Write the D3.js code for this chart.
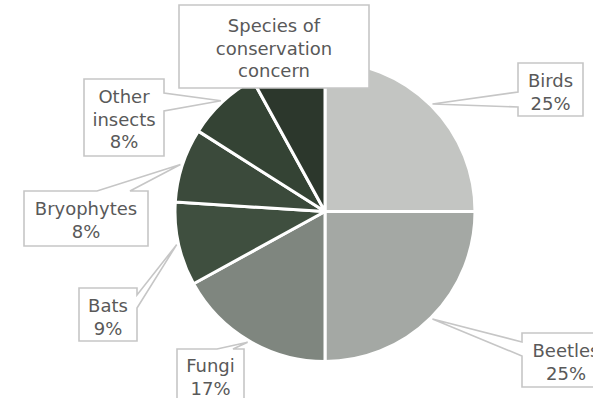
<!DOCTYPE html>
<html>
<head>
<meta charset="utf-8">
<script src="https://cdn.jsdelivr.net/npm/d3@7"></script>
<style>
  html, body { margin: 0; padding: 0; background: #fff; }
  svg { display: block; }
</style>
</head>
<body>
<svg id="chart" width="593" height="398"></svg>
<script>
// Share of indicator species groups (percent)
const categories = ["Birds", "Beetles", "Fungi", "Bats", "Bryophytes", "Other insects", "Species of conservation concern"];
const values = [25, 25, 17, 9, 8, 8, 8];
// Label lines per slice; the percentage line is appended where shown
const labelLines = [["Birds"], ["Beetles"], ["Fungi"], ["Bats"], ["Bryophytes"], ["Other", "insects"], ["Species of", "conservation", "concern"]];
const showPercent = [true, true, true, true, true, true, false];
const colors = ["#c3c5c2", "#a4a8a4", "#7f867f", "#3f4f3f", "#3b4a3b", "#344334", "#2c372c"];

// Callout box layout: box rect, which edge the pointer leaves from, and pointer base span
const callouts = [
  { x: 518, y: 63,  w: 65,  h: 53, first: 24, side: "left",   a: 92,  b: 107 },
  { x: 522, y: 333, w: 88,  h: 54, first: 24, side: "left",   a: 342, b: 356 },
  { x: 177, y: 349, w: 67,  h: 54, first: 23, side: "top",    a: 217, b: 233 },
  { x: 79,  y: 288, w: 58,  h: 53, first: 24, side: "right",  a: 295, b: 308 },
  { x: 24,  y: 191, w: 124, h: 55, first: 24, side: "top",    a: 97,  b: 130 },
  { x: 84,  y: 79,  w: 80,  h: 77, first: 24, side: "right",  a: 93,  b: 111 },
  { x: 179, y: 5,   w: 190, h: 83, first: 27, side: "bottom", a: 280, b: 294 }
];

const cx = 325, cy = 211.5, radius = 150;
const svg = d3.select("#chart");
const g = svg.append("g").attr("transform", `translate(${cx},${cy})`);

const data = categories.map((c, i) => ({ name: c, value: values[i], i }));
const pie = d3.pie().value(d => d.value).sort(null);
const arcs = pie(data);
const arc = d3.arc().innerRadius(0).outerRadius(radius);

g.selectAll("path.slice")
  .data(arcs)
  .join("path")
  .attr("class", "slice")
  .attr("d", arc)
  .attr("fill", d => colors[d.data.i])
  .attr("stroke", "#fff")
  .attr("stroke-width", 3)
  .attr("stroke-linejoin", "round");

// Pointer tip sits on the rim at the slice's middle angle
const tipArc = d3.arc().innerRadius(radius + 2).outerRadius(radius + 2);

function calloutPath(c, tip) {
  const x0 = c.x, y0 = c.y, x1 = c.x + c.w, y1 = c.y + c.h;
  const inside = tip[0] > x0 && tip[0] < x1 && tip[1] > y0 && tip[1] < y1;
  const p = d3.path();
  p.moveTo(x0, y0);
  if (c.side === "top" && !inside) { p.lineTo(c.a, y0); p.lineTo(tip[0], tip[1]); p.lineTo(c.b, y0); }
  p.lineTo(x1, y0);
  if (c.side === "right" && !inside) { p.lineTo(x1, c.a); p.lineTo(tip[0], tip[1]); p.lineTo(x1, c.b); }
  p.lineTo(x1, y1);
  if (c.side === "bottom" && !inside) { p.lineTo(c.b, y1); p.lineTo(tip[0], tip[1]); p.lineTo(c.a, y1); }
  p.lineTo(x0, y1);
  if (c.side === "left" && !inside) { p.lineTo(x0, c.b); p.lineTo(tip[0], tip[1]); p.lineTo(x0, c.a); }
  p.closePath();
  return p.toString();
}

const labels = svg.append("g").attr("class", "labels");
arcs.forEach(d => {
  const i = d.data.i;
  const c = callouts[i];
  const mid = tipArc.centroid(d);
  const tip = [mid[0] + cx, mid[1] + cy];
  const grp = labels.append("g");
  grp.append("path")
    .attr("d", calloutPath(c, tip))
    .attr("fill", "#fff")
    .attr("stroke", "#c6c6c6")
    .attr("stroke-width", 1.6)
    .attr("stroke-linejoin", "miter");
  const lines = labelLines[i].slice();
  if (showPercent[i]) lines.push(d3.format(".0%")(d.data.value / d3.sum(values)));
  const t = grp.append("text")
    .attr("font-family", "'DejaVu Sans', Verdana, sans-serif")
    .attr("font-size", 18)
    .attr("fill", "#595959")
    .attr("text-anchor", "middle");
  lines.forEach((ln, k) => {
    t.append("tspan")
      .attr("x", c.x + c.w / 2)
      .attr("y", c.y + c.first + k * 22.6)
      .text(ln);
  });
});
</script>
</body>
</html>
